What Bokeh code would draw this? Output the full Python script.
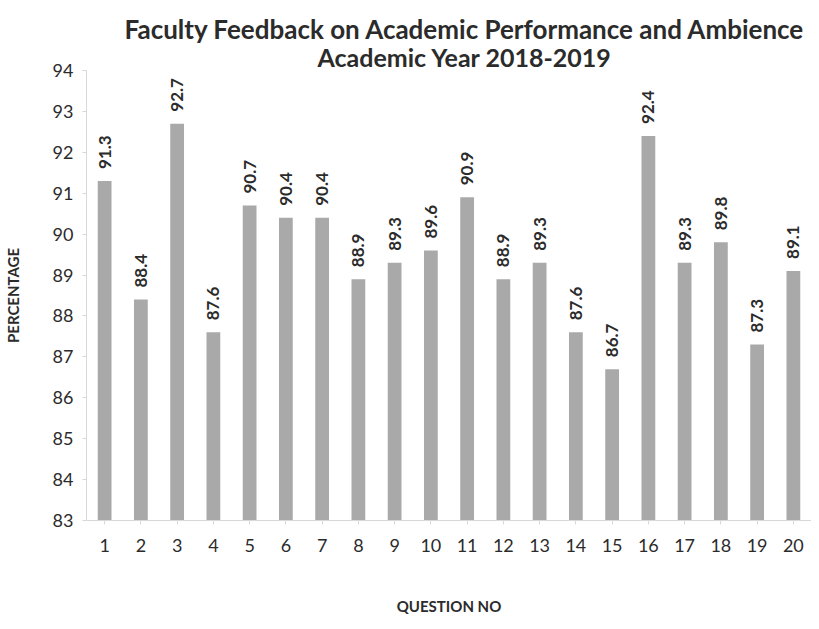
import math
from bokeh.plotting import figure
from bokeh.models import ColumnDataSource, Title, FixedTicker
from bokeh.core.properties import value
from bokeh.embed import file_html
from bokeh.resources import INLINE

questions = [str(i) for i in range(1, 21)]
percentages = [91.3, 88.4, 92.7, 87.6, 90.7, 90.4, 90.4, 88.9, 89.3, 89.6,
               90.9, 88.9, 89.3, 87.6, 86.7, 92.4, 89.3, 89.8, 87.3, 89.1]
label_texts = ["%.1f" % v for v in percentages]
y_ticks = list(range(83, 95))

FONT = "Lato"

src = ColumnDataSource(dict(q=questions, v=percentages, t=label_texts))

p = figure(width=811, height=621, x_range=questions, y_range=(83, 94),
           output_backend="svg", toolbar_location=None,
           min_border_left=86, min_border_right=0, min_border_top=70, min_border_bottom=101)
p.title = None
p.add_layout(Title(text="Academic Year 2018-2019", align="left", offset=231,
                   text_font=FONT, text_font_size="25px", text_font_style="bold",
                   text_color="#2b2b2b", standoff=-2), "above")
p.add_layout(Title(text="Faculty Feedback on Academic Performance and Ambience", align="left", offset=38,
                   text_font=FONT, text_font_size="26px", text_font_style="bold",
                   text_color="#2b2b2b", standoff=-9), "above")

p.vbar(x="q", top="v", bottom=83, width=0.38, source=src,
       fill_color="#a9a9a9", line_color=None)
p.text(x="q", y="v", text="t", source=src, angle=math.pi / 2,
       text_align="left", text_baseline="middle", y_offset=-12,
       text_font=value(FONT), text_font_size="17px", text_font_style="bold",
       text_color="#2b2b2b")

p.xgrid.grid_line_color = None
p.ygrid.grid_line_color = None
p.outline_line_color = None

p.yaxis.ticker = FixedTicker(ticks=y_ticks)
p.yaxis.axis_label = "PERCENTAGE"
p.xaxis.axis_label = "QUESTION NO"
for ax in (p.xaxis, p.yaxis):
    ax.axis_line_color = "#d8d8d8"
    ax.major_tick_line_color = "#d8d8d8"
    ax.minor_tick_line_color = None
    ax.major_label_text_font = FONT
    ax.major_label_text_font_size = "18px"
    ax.major_label_text_color = "#2b2b2b"
    ax.axis_label_text_font = FONT
    ax.axis_label_text_font_size = "15px"
    ax.axis_label_text_font_style = "bold"
    ax.axis_label_text_color = "#2b2b2b"
p.xaxis.major_label_standoff = 14
p.xaxis.axis_label_standoff = 42
p.yaxis.major_label_standoff = 9
p.yaxis.axis_label_standoff = 28
p.xaxis.major_tick_out = 4
p.xaxis.major_tick_in = 0
p.yaxis.major_tick_out = 4
p.yaxis.major_tick_in = 0

open("out.html", "w").write(file_html(p, INLINE))
